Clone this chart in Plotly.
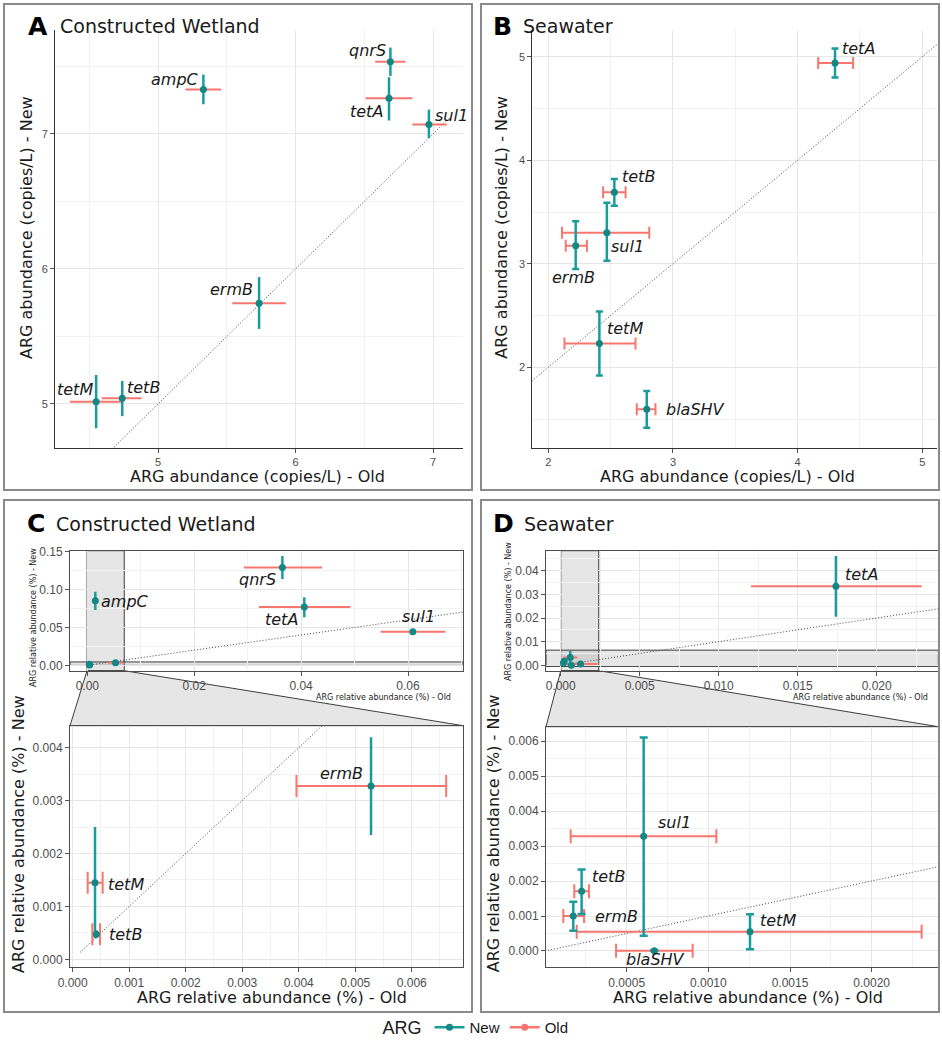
import plotly.graph_objects as go

W, H = 942, 1043

# ---------------- data ----------------
# Panel A: Constructed Wetland, ARG abundance (log copies/L)
A_genes = ["qnrS", "ampC", "tetA", "sul1", "ermB", "tetM", "tetB"]
A_old = [6.69, 5.33, 6.68, 6.97, 5.735, 4.55, 4.74]
A_old_lo = [6.58, 5.20, 6.51, 6.85, 5.54, 4.36, 4.59]
A_old_hi = [6.80, 5.46, 6.85, 7.10, 5.93, 4.74, 4.88]
A_new = [7.535, 7.33, 7.265, 7.07, 5.746, 5.017, 5.042]
A_new_lo = [7.43, 7.22, 7.10, 6.97, 5.556, 4.82, 4.91]
A_new_hi = [7.64, 7.44, 7.42, 7.18, 5.94, 5.215, 5.17]

# Panel B: Seawater, ARG abundance (log copies/L)
B_genes = ["tetA", "tetB", "sul1", "ermB", "tetM", "blaSHV"]
B_old = [4.30, 2.53, 2.47, 2.22, 2.41, 2.79]
B_old_lo = [4.165, 2.44, 2.11, 2.14, 2.13, 2.71]
B_old_hi = [4.445, 2.62, 2.81, 2.31, 2.70, 2.86]
B_new = [4.94, 3.69, 3.30, 3.175, 2.23, 1.595]
B_new_lo = [4.80, 3.56, 3.03, 2.95, 1.92, 1.415]
B_new_hi = [5.08, 3.82, 3.59, 3.41, 2.54, 1.77]

# Panel C: Constructed Wetland, ARG relative abundance (%)
C_genes = ["qnrS", "ampC", "tetA", "sul1", "ermB", "tetM", "tetB"]
C_old = [0.0365, 0.0015, 0.0406, 0.0609, 0.00528, 0.000395, 0.000418]
C_old_lo = [0.0293, 0.0011, 0.0321, 0.0549, 0.00396, 0.000265, 0.000347]
C_old_hi = [0.0439, 0.0019, 0.0492, 0.0670, 0.00661, 0.00053, 0.000483]
C_new = [0.1293, 0.0852, 0.0769, 0.0443, 0.003276, 0.001448, 0.000473]
C_new_lo = [0.1138, 0.073, 0.0633, 0.0410, 0.00235, 0.0004, 0.00040]
C_new_hi = [0.1442, 0.0971, 0.0897, 0.0480, 0.0042, 0.0025, 0.00055]

# Panel D: Seawater, ARG relative abundance (%)
D_genes = ["tetA", "tetB", "sul1", "ermB", "tetM", "blaSHV"]
D_old = [0.01742, 0.000224, 0.000604, 0.000173, 0.001255, 0.000669]
D_old_lo = [0.01204, 0.000179, 0.000157, 0.000112, 0.000194, 0.000435]
D_old_hi = [0.02285, 0.000269, 0.001049, 0.000239, 0.002306, 0.000904]
D_new = [0.0334, 0.001706, 0.003277, 0.001, 0.000552, 0.00001]
D_new_lo = [0.0205, 0.00106, 0.000437, 0.00058, 0.00005, 0.0]
D_new_hi = [0.0462, 0.00233, 0.0061, 0.00141, 0.001049, 0.00002]

DATA = {
    "A": (A_genes, A_old, A_old_lo, A_old_hi, A_new, A_new_lo, A_new_hi),
    "B": (B_genes, B_old, B_old_lo, B_old_hi, B_new, B_new_lo, B_new_hi),
    "C": (C_genes, C_old, C_old_lo, C_old_hi, C_new, C_new_lo, C_new_hi),
    "D": (D_genes, D_old, D_old_lo, D_old_hi, D_new, D_new_lo, D_new_hi),
}

# ---------------- styling / layout ----------------
TEAL = "#1a9c9c"
TEAL_PT = "#138686"
RED = "#F8766D"
GRID = "#e6e6e6"
GRID_MINOR = "#f2f2f2"
TITLE_FONT = "DejaVu Sans"
TICK_FONT = "Liberation Sans"


def xdom(p0, p1):
    return [p0 / W, p1 / W]


def ydom(top, bot):
    return [1 - bot / H, 1 - top / H]


# subplot index -> configuration (pixel boxes, axis ranges, etc.)
SUB = {
    1: dict(data="A", xd=xdom(55, 463), yd=ydom(30, 448), xr=[4.251, 7.218], yr=[4.674, 7.770],
            dt=(1, 1), mn=(0.5, 0.5), fmt=("d", "d"), box=False, tsz=11, caps=(0, 0),
            ident=[4.68, 7.12],
            labels={"qnrS": (-23, -11), "ampC": (-28.5, -9.7), "tetA": (-22.5, 13.4), "sul1": (23, -9.3),
                    "ermB": (-27.7, -13.3), "tetM": (-20.7, -12.4), "tetB": (21, -11)}),
    2: dict(data="B", xd=xdom(532.3, 937), yd=ydom(30, 448), xr=[1.872, 5.118], yr=[1.2205, 5.258],
            dt=(1, 1), mn=(0.5, 0.5), fmt=("d", "d"), box=False, tsz=11, caps=(6, 3.5),
            ident=[1.85, 5.2],
            labels={"tetA": (23.7, -14.4), "tetB": (24.4, -16.3), "sul1": (20.8, 13.4), "ermB": (-1.7, 31.6),
                    "tetM": (25.5, -15), "blaSHV": (48.5, 0)}),
    3: dict(data="C", xd=xdom(70, 463), yd=ydom(550.7, 670.7), xr=[-0.003237, 0.07029], yr=[-0.00713, 0.15132],
            dt=(0.02, 0.05), mn=(0.01, 0.025), fmt=(".2f", ".2f"), box=True, tsz=12, caps=(0, 0),
            ident=[0, 0.075],
            labels={"ampC": (29.7, 1), "qnrS": (-25, 11.7), "tetA": (-23, 12.3), "sul1": (5.4, -15.7)}),
    4: dict(data="C", xd=xdom(70, 463.3), yd=ydom(725.7, 967.3), xr=[-0.0000478, 0.006913], yr=[-0.000151, 0.004416],
            dt=(0.001, 0.001), mn=(0.0005, 0.0005), fmt=(".3f", ".3f"), box=True, tsz=12, caps=(11, 0),
            ident=[0.00013, 0.006],
            labels={"ermB": (-30, -12.7), "tetM": (31.2, 1.3), "tetB": (28.7, 0)}),
    5: dict(data="D", xd=xdom(546, 938.3), yd=ydom(550.7, 670.7), xr=[-0.00093, 0.0239], yr=[-0.00228, 0.04846],
            dt=(0.005, 0.01), mn=(0.0025, 0.005), fmt=(".3f", ".2f"), box=True, tsz=12, caps=(0, 0),
            ident=[0, 0.025],
            labels={"tetA": (25.7, -12)}),
    6: dict(data="D", xd=xdom(546, 938.3), yd=ydom(726.7, 967.3), xr=[0.0000059, 0.002408], yr=[-0.000466, 0.006409],
            dt=(0.0005, 0.001), mn=(0.00025, 0.0005), fmt=(".4f", ".3f"), box=True, tsz=12, caps=(7, 4),
            ident=[0, 0.0025],
            labels={"sul1": (30.8, -14), "tetB": (26.6, -14.6), "ermB": (43.7, 0), "tetM": (28, -11),
                    "blaSHV": (1.2, 9.3)}),
}

fig = go.Figure()
annotations = []
shapes = []
layout_axes = {}

for i, cfg in SUB.items():
    sx = "" if i == 1 else str(i)
    xname, yname = "x" + sx, "y" + sx
    genes, old, old_lo, old_hi, new, new_lo, new_hi = DATA[cfg["data"]]

    # identity line
    fig.add_trace(go.Scatter(x=cfg["ident"], y=cfg["ident"], mode="lines", xaxis=xname, yaxis=yname,
                             line=dict(color="#444444", width=1, dash="1px,2px"), showlegend=False,
                             hoverinfo="skip"))
    # Old (horizontal error bars)
    fig.add_trace(go.Scatter(
        x=old, y=new, mode="markers", xaxis=xname, yaxis=yname, showlegend=False,
        marker=dict(size=1, color="rgba(0,0,0,0)"),
        error_x=dict(type="data", symmetric=False,
                     array=[h - v for h, v in zip(old_hi, old)],
                     arrayminus=[v - l for v, l in zip(old, old_lo)],
                     color=RED, thickness=2, width=cfg["caps"][0])))
    # New (vertical error bars + points)
    fig.add_trace(go.Scatter(
        x=old, y=new, mode="markers", xaxis=xname, yaxis=yname, showlegend=False,
        marker=dict(size=7, color=TEAL_PT),
        error_y=dict(type="data", symmetric=False,
                     array=[h - v for h, v in zip(new_hi, new)],
                     arrayminus=[v - l for v, l in zip(new, new_lo)],
                     color=TEAL, thickness=2.5, width=cfg["caps"][1])))

    # gene labels
    for g, (dxp, dyp) in cfg["labels"].items():
        k = genes.index(g)
        annotations.append(dict(x=old[k], y=new[k], xref=xname, yref=yname, text="<i>%s</i>" % g,
                                showarrow=False, xanchor="center", yanchor="middle",
                                xshift=dxp, yshift=-dyp,
                                font=dict(family=TITLE_FONT, size=16, color="#1a1a1a")))

    lc = "#4d4d4d" if cfg["box"] else "#333333"
    common = dict(showgrid=True, gridcolor=GRID, gridwidth=1, zeroline=False,
                  showline=True, linecolor=lc, linewidth=1, mirror=cfg["box"],
                  ticks="outside", ticklen=4, tickwidth=1, tickcolor="#555555",
                  tickfont=dict(family=TICK_FONT, size=cfg["tsz"], color="#4d4d4d"),
                  fixedrange=True, tick0=0, automargin=False)
    layout_axes["xaxis" + sx] = dict(domain=cfg["xd"], range=cfg["xr"], anchor=yname, dtick=cfg["dt"][0],
                                     tickformat=cfg["fmt"][0],
                                     minor=dict(dtick=cfg["mn"][0], tick0=0, showgrid=True,
                                                gridcolor=GRID_MINOR, gridwidth=0.8),
                                     **common)
    layout_axes["yaxis" + sx] = dict(domain=cfg["yd"], range=cfg["yr"], anchor=xname, dtick=cfg["dt"][1],
                                     tickformat=cfg["fmt"][1],
                                     minor=dict(dtick=cfg["mn"][1], tick0=0, showgrid=True,
                                                gridcolor=GRID_MINOR, gridwidth=0.8),
                                     **common)


# zoom indicator bands in the overview insets and connecting trapezoids
def to_paper_x(cfg, v):
    return cfg["xd"][0] + (v - cfg["xr"][0]) / (cfg["xr"][1] - cfg["xr"][0]) * (cfg["xd"][1] - cfg["xd"][0])


for top, bot in ((3, 4), (5, 6)):
    ct, cb = SUB[top], SUB[bot]
    xn, yn = "x%d" % top, "y%d" % top
    band_style = dict(fillcolor="rgba(140,140,140,0.22)", line=dict(color="#3d3d3d", width=1), layer="below")
    shapes.append(dict(type="rect", xref=xn, yref=yn, x0=cb["xr"][0], x1=cb["xr"][1],
                       y0=ct["yr"][0], y1=ct["yr"][1], **band_style))
    shapes.append(dict(type="rect", xref=xn, yref=yn, x0=ct["xr"][0], x1=ct["xr"][1],
                       y0=cb["yr"][0], y1=cb["yr"][1], **band_style))
    bx0, bx1 = to_paper_x(ct, cb["xr"][0]), to_paper_x(ct, cb["xr"][1])
    ytop, ybot = ct["yd"][0], cb["yd"][1]
    path = "M %f,%f L %f,%f L %f,%f L %f,%f Z" % (bx0, ytop, bx1, ytop, cb["xd"][1], ybot, cb["xd"][0], ybot)
    shapes.append(dict(type="path", xref="paper", yref="paper", path=path, fillcolor="#e6e6e6",
                       line=dict(color="#3d3d3d", width=1), layer="below"))

# panel frames
for (x0, y0, x1, y1) in ((4, 4, 472, 490), (481, 4, 939, 490), (4, 500, 472, 1012), (481, 500, 939, 1012)):
    shapes.append(dict(type="rect", xref="paper", yref="paper", x0=x0 / W, x1=x1 / W, y0=1 - y1 / H, y1=1 - y0 / H,
                       line=dict(color="#8a8a8a", width=2), fillcolor="rgba(0,0,0,0)", layer="above"))


def ann(text, px, py, size, anchor="left", angle=0, family=TITLE_FONT, color="#1a1a1a"):
    annotations.append(dict(text=text, x=px / W, y=1 - py / H, xref="paper", yref="paper", showarrow=False,
                            xanchor=anchor, yanchor="middle", textangle=angle,
                            font=dict(family=family, size=size, color=color)))


# panel titles
for letter, name, lx, tx, ty in (("A", "Constructed Wetland", 26, 58, 26), ("B", "Seawater", 491, 520.7, 26),
                                  ("C", "Constructed Wetland", 25, 54.3, 523.5), ("D", "Seawater", 491, 521.7, 523.5)):
    ann("<b>%s</b>" % letter, lx, ty, 25, color="#000000")
    ann(name, tx, ty, 19)

# axis titles
ann("ARG abundance (copies/L) - Old", 257.5, 476, 16, anchor="center")
ann("ARG abundance (copies/L) - New", 27, 228, 16, anchor="center", angle=-90)
ann("ARG abundance (copies/L) - Old", 727, 476, 16, anchor="center")
ann("ARG abundance (copies/L) - New", 501.7, 227, 16, anchor="center", angle=-90)
ann("ARG relative abundance (%) - Old", 272, 997, 16, anchor="center")
ann("ARG relative abundance (%) - New", 18, 834, 16, anchor="center", angle=-90)
ann("ARG relative abundance (%) - Old", 747.5, 997, 16, anchor="center")
ann("ARG relative abundance (%) - New", 493.3, 833, 16, anchor="center", angle=-90)
ann("ARG relative abundance (%) - Old", 453, 697, 8, anchor="right")
ann("ARG relative abundance (%) - New", 33, 618, 8, anchor="center", angle=-90)
ann("ARG relative abundance (%) - Old", 930, 697, 8, anchor="right")
ann("ARG relative abundance (%) - New", 508, 612, 8, anchor="center", angle=-90)

# legend entries
fig.add_trace(go.Scatter(x=[None], y=[None], mode="lines+markers", name="New",
                         line=dict(color=TEAL, width=2.5), marker=dict(color=TEAL_PT, size=7)))
fig.add_trace(go.Scatter(x=[None], y=[None], mode="lines+markers", name="Old",
                         line=dict(color=RED, width=2.5), marker=dict(color=RED, size=7)))

fig.update_layout(
    template="none",
    width=W, height=H, autosize=False,
    margin=dict(l=0, r=0, t=0, b=0, autoexpand=False),
    paper_bgcolor="white", plot_bgcolor="white",
    showlegend=True,
    legend=dict(orientation="h", x=477 / W, xanchor="center", y=1 - 1028 / H, yanchor="middle",
                title=dict(text="ARG", font=dict(family=TICK_FONT, size=18, color="#1a1a1a")),
                font=dict(family=TICK_FONT, size=15, color="#1a1a1a"),
                bgcolor="rgba(0,0,0,0)", borderwidth=0, itemwidth=30, tracegroupgap=0),
    annotations=annotations,
    shapes=shapes,
    **layout_axes,
)

fig.write_html("out.html")
